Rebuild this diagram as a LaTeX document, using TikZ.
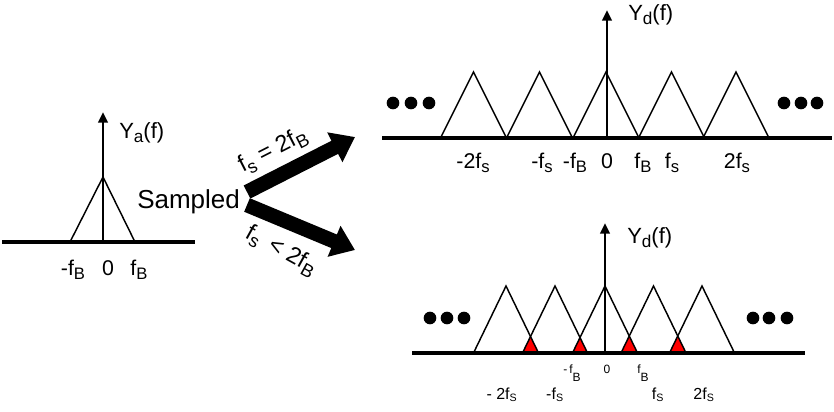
\documentclass[tikz,border=0pt]{standalone}
\usepackage{fontspec}
\setmainfont{Liberation Sans}
\usetikzlibrary{arrows.meta}
\newcommand{\ssub}[1]{\raisebox{-0.22em}{\scalebox{0.78}{#1}}}
\begin{document}
\begin{tikzpicture}[x=0.75pt,y=-0.75pt,
  lbl/.style={inner sep=0pt, anchor=base, font=\fontsize{16}{18}\selectfont},
  ylbl/.style={inner sep=0pt, anchor=base west, font=\fontsize{16.5}{18}\selectfont},
  small/.style={inner sep=0pt, anchor=base, font=\fontsize{9}{11}\selectfont},
  mid/.style={inner sep=0pt, anchor=base, font=\fontsize{12}{14}\selectfont},
  axis/.style={line width=3pt},
  tri/.style={line width=1.1pt, line join=miter},
  vax/.style={line width=2pt, -{Triangle[length=8pt,width=7pt]}},
  dot/.style={circle, fill=black, inner sep=0pt, minimum size=9.5pt},
  bigarrow/.style={line width=11pt, -{Triangle[length=17pt,width=24pt]}},
  alabel/.style={inner sep=0pt, font=\fontsize{17.5}{18}\selectfont},
]
\useasboundingbox (0,0) rectangle (834,411);

% ---------- left spectrum ----------
\draw[tri] (70,242) -- (103,177) -- (135,242);
\coordinate (La) at (2,242); \coordinate (Lb) at (195,242);
\draw[axis] (La) -- (Lb);
\coordinate (Lo) at (103,242); \coordinate (Lt) at (103,112);
\draw[vax] (Lo) -- (Lt);
\node[ylbl] (Ya) at (119,138) {Y\ssub{a}(f)};
\node[lbl] (l1) at (73,275) {-f\ssub{B}};
\node[lbl] (l2) at (108,275) {0};
\node[lbl] (l3) at (139,275) {f\ssub{B}};

% ---------- Sampled and arrows ----------
\node[inner sep=0pt, anchor=base west, font=\fontsize{19.5}{22}\selectfont] (samp) at (137,208) {Sampled};
\coordinate (A0) at (247,192); \coordinate (A1) at (355,137);
\coordinate (B0) at (247,205); \coordinate (B1) at (355,250);
\draw[bigarrow] (A0) -- (A1);
\draw[bigarrow] (B0) -- (B1);
\node[alabel, rotate=27] (eq) at (273,151) {f\ssub{s} = 2f\ssub{B}};
\node[alabel, rotate=-29] (lt) at (281,251) {f\ssub{s} \,< 2f\ssub{B}};

% ---------- top right spectrum ----------
\foreach \c in {473.5,539.5,606,671.5,736}{
  \draw[tri] (\c-33,138) -- (\c,72) -- (\c+33,138);
}
\coordinate (Ta) at (382,138); \coordinate (Tb) at (832,138);
\draw[axis] (Ta) -- (Tb);
\coordinate (To) at (607,138); \coordinate (Tt) at (607,10);
\draw[vax] (To) -- (Tt);
\node[ylbl] (Yd1) at (628,20) {Y\ssub{d}(f)};
\foreach \x [count=\i] in {393,411,429,784,801,817}{
  \node[dot] (td\i) at (\x,103) {};
}
\node[lbl] (t1) at (473,168) {-2f\ssub{s}};
\node[lbl] (t2) at (542,168) {-f\ssub{s}};
\node[lbl] (t3) at (575,168) {-f\ssub{B}};
\node[lbl] (t4) at (607,168) {0};
\node[lbl] (t5) at (643,168) {f\ssub{B}};
\node[lbl] (t6) at (672,168) {f\ssub{s}};
\node[lbl] (t7) at (737,168) {2f\ssub{s}};

% ---------- bottom right spectrum ----------
\fill[red] (522.5,353) -- (530.5,336.5) -- (538.5,353) -- cycle;
\fill[red] (572.5,353) -- (580,337.5) -- (587.5,353) -- cycle;
\fill[red] (621,353) -- (629.25,336) -- (637.5,353) -- cycle;
\fill[red] (669.5,353) -- (677.75,336) -- (686,353) -- cycle;
\foreach \c in {506,555,605,653.5,702}{
  \draw[tri] (\c-32.5,353) -- (\c,286) -- (\c+32.5,353);
}
\coordinate (Ba) at (412,353); \coordinate (Bb) at (805,353);
\draw[axis] (Ba) -- (Bb);
\coordinate (Bo) at (605,353); \coordinate (Bt) at (605,223);
\draw[vax] (Bo) -- (Bt);
\node[ylbl] (Yd2) at (627,243) {Y\ssub{d}(f)};
\foreach \x [count=\i] in {430,447,464,753,769,787}{
  \node[dot] (bd\i) at (\x,318) {};
}
\node[small] (s1) at (572,373) {-\,f\raisebox{-6.5pt}{B}};
\node[small] (s2) at (607,373) {0};
\node[small] (s3) at (643,373) {f\raisebox{-6.5pt}{B}};
\node[mid] (m1) at (502,399) {- 2f\textsubscript{S}};
\node[mid] (m2) at (555,399) {-f\textsubscript{S}};
\node[mid] (m3) at (658,399) {f\textsubscript{S}};
\node[mid] (m4) at (704,399) {2f\textsubscript{S}};
\end{tikzpicture}
\end{document}
